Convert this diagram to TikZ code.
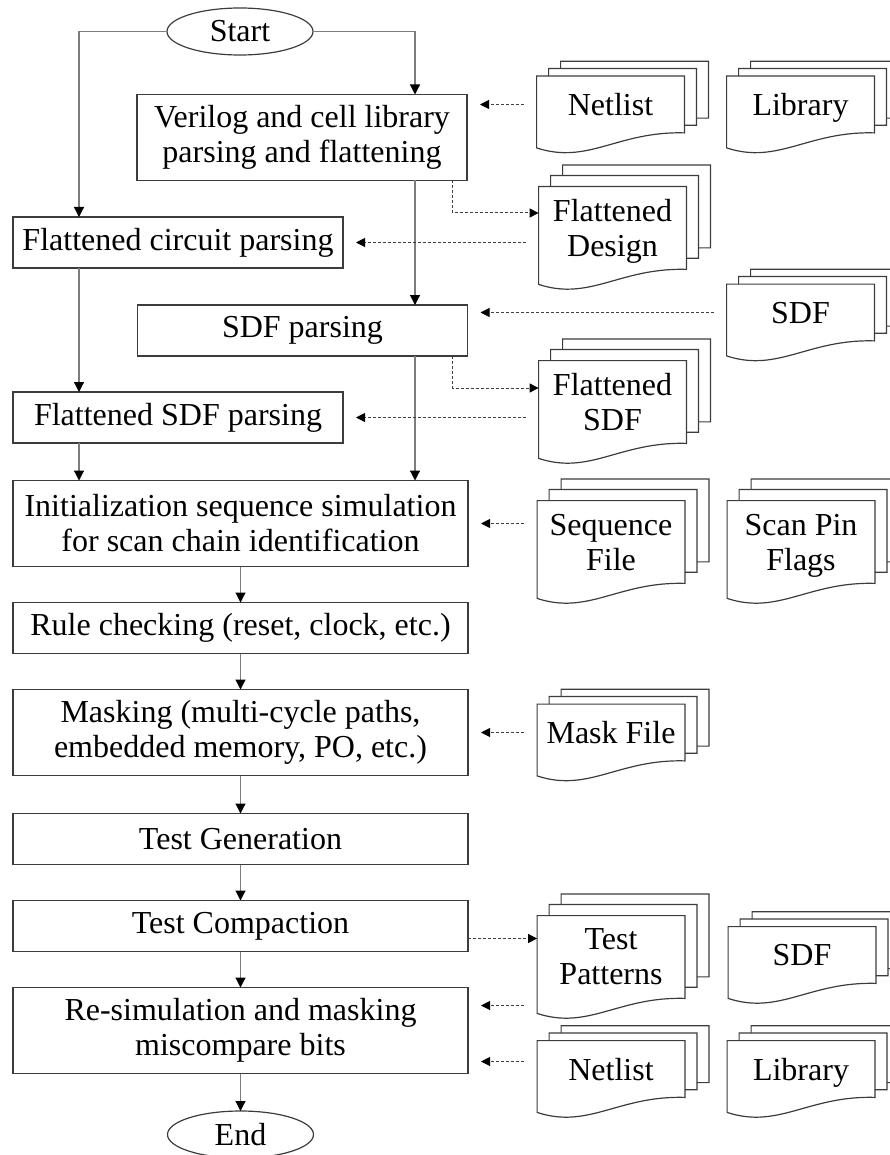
\documentclass[tikz,border=0pt]{standalone}
\usepackage{fontspec}
\setmainfont{Liberation Serif}
\usetikzlibrary{shapes.geometric, arrows.meta, positioning, calc}
\definecolor{boxborder}{RGB}{60,60,60}
\definecolor{flowline}{RGB}{125,125,125}
\tikzset{
    stepbox/.style={rectangle, draw=boxborder, line width=0.6pt, minimum height=25.5pt,
        outer sep=0pt, inner xsep=2pt, align=center, font=\fontsize{16}{17.5}\selectfont},
    widebox/.style={stepbox, minimum width=227.5pt},
    halfbox/.style={stepbox, minimum width=165pt},
    tallbox/.style={minimum height=43pt},
    terminal/.style={ellipse, draw=boxborder, line width=0.6pt, minimum width=73pt, outer sep=0pt,
        minimum height=23.5pt, inner sep=0pt, font=\fontsize{16}{17.5}\selectfont},
    docpage/.style={rectangle, inner sep=0pt, minimum width=73.5pt, minimum height=28pt,
        text depth=0pt, align=center, font=\fontsize{16}{17.5}\selectfont},
    tallpage/.style={minimum height=41pt},
    docline/.style={draw=boxborder, line width=0.6pt},
    flow/.style={draw=flowline, line width=0.6pt, -{Triangle[length=5pt,width=5pt,color=black]}},
    dasharrow/.style={draw=black!75, line width=0.5pt, dash pattern=on 1.5pt off 1pt,
        -{Triangle[length=4.5pt,width=4.5pt,color=black]}},
    docarrow/.style={dasharrow, shorten <=6.5pt, shorten >=6.5pt}
}
% stacked document outline around a named node
\newcommand{\docstack}[1]{%
    \draw[docline] ($(#1.north west)!-0.135!(#1.south west)+(24,0)$)
        -- ($(#1.north west)!-0.26!(#1.south west)+(24,0)$)
        -- ($(#1.north east)!-0.26!(#1.south east)+(24,0)$)
        -- ($(#1.south east)!0.26!(#1.north east)+(24,0)$)
        -- ($(#1.south east)!0.26!(#1.north east)+(12,0)$);
    \draw[docline] ($(#1.north west)+(12,0)$)
        -- ($(#1.north west)!-0.135!(#1.south west)+(12,0)$)
        -- ($(#1.north east)!-0.135!(#1.south east)+(12,0)$)
        -- ($(#1.south east)!0.135!(#1.north east)+(12,0)$)
        -- ($(#1.south east)!0.135!(#1.north east)$);
    \draw[docline] (#1.north west) -- (#1.north east) -- (#1.south east)
        .. controls ($(#1.south west)!0.55!(#1.south east)+(0,-2)$)
        and ($(#1.south west)!0.35!(#1.south east)+(0,32)$)
        .. ($(#1.south west)+(0,15)$) -- cycle;
}

\begin{document}
\begin{tikzpicture}[x=0.5pt, y=-0.5pt]
    \useasboundingbox (0,0) rectangle (889,1155);

    % flow steps
    \node[terminal] (start) at (240,31.5) {Start};
    \node[halfbox, tallbox] (verilog) at (302,137.5) {Verilog and cell library\\parsing and flattening};
    \node[halfbox] (fcirc) at (178,242.5) {Flattened circuit parsing};
    \node[halfbox] (sdfp) at (302.5,330.5) {SDF parsing};
    \node[halfbox] (fsdfp) at (178,417.5) {Flattened SDF parsing};
    \node[widebox, tallbox] (init) at (240.5,523.5) {Initialization sequence simulation\\for scan chain identification};
    \node[widebox, below=18pt of init] (rule) {Rule checking (reset, clock, etc.)};
    \node[widebox, tallbox, below=18pt of rule] (masking) {Masking (multi-cycle paths,\\embedded memory, PO, etc.)};
    \node[widebox, below=19pt of masking] (tgen) {Test Generation};
    \node[widebox, below=18pt of tgen] (tcomp) {Test Compaction};
    \node[widebox, tallbox, below=18pt of tcomp] (resim) {Re-simulation and masking\\miscompare bits};
    \node[terminal, below=18.75pt of resim] (stop) {End};

    % files
    \node[docpage] (net1) at (610.5,104.5) {Netlist};
    \node[docpage] (lib1) at (800.5,104.5) {Library};
    \node[docpage, tallpage] (fdes) at (612.5,228) {Flattened\\Design};
    \node[docpage] (sdf1) at (800.5,312.5) {SDF};
    \node[docpage, tallpage] (fsdf) at (612.5,402) {Flattened\\SDF};
    \node[docpage, tallpage] (seq) at (611,542) {Sequence\\File};
    \node[docpage, tallpage] (scan) at (801,542) {Scan Pin\\Flags};
    \node[docpage] (maskfile) at (611,732.5) {Mask File};
    \node[docpage, tallpage] (tpat) at (611,957) {Test\\Patterns};
    \node[docpage] (sdf2) at (802,955) {SDF};
    \node[docpage] (net2) at (611,1069) {Netlist};
    \node[docpage] (lib2) at (801,1069) {Library};
    \foreach \d in {net1,lib1,fdes,sdf1,fsdf,seq,scan,maskfile,tpat,sdf2,net2,lib2}
        \docstack{\d};

    % solid flow
    \coordinate (lx) at (79,0);
    \coordinate (rx) at (415,0);
    \draw[flow] (start.west) -| (lx |- fcirc.north);
    \draw[flow] (start.east) -| (rx |- verilog.north);
    \draw[flow] (lx |- fcirc.south) -- (lx |- fsdfp.north);
    \draw[flow] (lx |- fsdfp.south) -- (lx |- init.north);
    \draw[flow] (rx |- verilog.south) -- (rx |- sdfp.north);
    \draw[flow] (rx |- sdfp.south) -- (rx |- init.north);
    \foreach \a/\b in {init/rule, rule/masking, masking/tgen, tgen/tcomp, tcomp/resim, resim/stop}
        \draw[flow] (\a) -- (\b);

    % file links
    \draw[docarrow] (net1.west) -- (net1.west -| verilog.east);
    \draw[dasharrow] ([xshift=-7.5pt]verilog.south east) |- ([yshift=7.5pt]fdes.west);
    \draw[docarrow] (fdes.west |- fcirc.east) -- (fcirc.east);
    \draw[docarrow] (sdf1.west) -- (sdf1.west -| sdfp.east);
    \draw[dasharrow] ([xshift=-7.5pt]sdfp.south east) |- ([yshift=7pt]fsdf.west);
    \draw[docarrow] (fsdf.west |- fsdfp.east) -- (fsdfp.east);
    \draw[docarrow] (seq.west |- init.east) -- (init.east);
    \draw[docarrow] (maskfile.west |- masking.east) -- (masking.east);
    \coordinate (tcomp-out) at ($(tcomp.east)+(0,12.5)$);
    \draw[dasharrow] (tcomp-out) -- (tcomp-out -| tpat.west);
    \coordinate (resim-in1) at ($(resim.east)+(0,-25)$);
    \coordinate (resim-in2) at ($(resim.east)+(0,31)$);
    \draw[docarrow] (resim-in1 -| tpat.west) -- (resim-in1);
    \draw[docarrow] (resim-in2 -| net2.west) -- (resim-in2);
\end{tikzpicture}
\end{document}
